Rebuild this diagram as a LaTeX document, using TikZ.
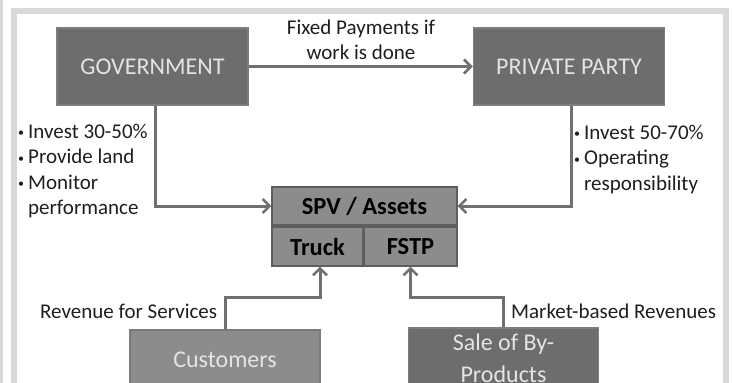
\documentclass[tikz,border=0pt]{standalone}
\usepackage{fontspec}
\setmainfont{Carlito}
\usetikzlibrary{arrows.meta}
\definecolor{framegray}{HTML}{D9D9D9}
\definecolor{darkbox}{HTML}{6D6D6D}
\definecolor{darkedge}{HTML}{7E7E7E}
\definecolor{midbox}{HTML}{8C8C8C}
\definecolor{midedge}{HTML}{5E5E5E}
\definecolor{custbox}{HTML}{8C8C8C}
\definecolor{custedge}{HTML}{7B7B7B}
\definecolor{linkgray}{HTML}{707070}
\definecolor{boxtext}{HTML}{E4E4E4}
\definecolor{inktext}{HTML}{1E1E1E}
\newcommand{\dotmark}{\raisebox{1.5pt}{\fontsize{12}{12}\selectfont\textbullet}}
\tikzset{
  party/.style={draw=darkedge, line width=1.5pt, fill=darkbox, text=boxtext,
    minimum width=191pt, minimum height=77pt, inner sep=0pt,
    font=\fontsize{24}{28}\selectfont},
  assetbox/.style={draw=midedge, line width=1.2pt, fill=midbox, text=black,
    inner sep=0pt, font=\bfseries\fontsize{24.5}{28}\selectfont},
  sourcebox/.style={line width=1.5pt, text=boxtext, minimum width=190pt,
    minimum height=60pt, inner sep=0pt, align=center,
    font=\fontsize{24}{32}\selectfont},
  link/.style={draw=linkgray, line width=3pt,
    -{Straight Barb[length=7pt,width=14pt,line width=2.5pt]}},
  note/.style={text=inktext, inner sep=0pt, font=\fontsize{21}{25.5}\selectfont}
}
\begin{document}
\begin{tikzpicture}[x=1pt,y=-1pt]
  \useasboundingbox (0,0) rectangle (732,383);
  % outer frame
  \fill[framegray] (0,0) rectangle (3,383);
  \draw[framegray, line width=6pt] (14,11) rectangle (725.5,430);

  % parties
  \node[party] (gov) at (152.5,66.5) {GOVERNMENT};
  \node[party] (pp)  at (569,66.5) {PRIVATE PARTY};

  % SPV and its assets
  \node[assetbox, minimum width=185pt, minimum height=38pt] (spv) at (364.5,206) {SPV / Assets};
  \node[assetbox, minimum width=91pt, minimum height=39pt] (truck) at (317.5,246.5) {Truck};
  \node[assetbox, minimum width=93pt, minimum height=39pt] (fstp) at (410.5,246.5) {FSTP};

  % revenue sources
  \node[sourcebox, draw=custedge, fill=custbox] (cust) at (225,360) {Customers};
  \node[sourcebox, draw=darkedge, fill=darkbox, text depth=0pt] (sale) at (503.5,358) {Sale of By-\\Products};

  % connectors
  \draw[link] (gov.east) -- (pp.west);
  \node[note, align=center] (pay) at (361,40) {Fixed Payments if\\work is done};

  \draw[link] ([xshift=2.5pt]gov.south) |- (spv.west);
  \draw[link] ([xshift=2pt]pp.south) |- (spv.east);

  \coordinate (custbend) at (225,297);
  \coordinate (salebend) at (503.5,297);
  \draw[link] (cust.north) -- (custbend) -| ([xshift=2.5pt]truck.south);
  \draw[link] (sale.north) -- (salebend) -| (fstp.south);

  % notes
  \node[note, anchor=base west] (govnote) at (18,138)
    {\begin{tabular}[t]{@{}l@{\hspace{4pt}}l@{}}\dotmark&Invest 30-50\%\\
      \dotmark&Provide land\\
      \dotmark&Monitor\\
      &performance\end{tabular}};
  \node[note, anchor=base west] (ppnote) at (574,139)
    {\begin{tabular}[t]{@{}l@{\hspace{4pt}}l@{}}\dotmark&Invest 50-70\%\\
      \dotmark&Operating\\
      &responsibility\end{tabular}};
  \node[note, anchor=base west] (custnote) at (40,318) {Revenue for Services};
  \node[note, anchor=base west] (salenote) at (511,318) {Market-based Revenues};
\end{tikzpicture}
\end{document}
